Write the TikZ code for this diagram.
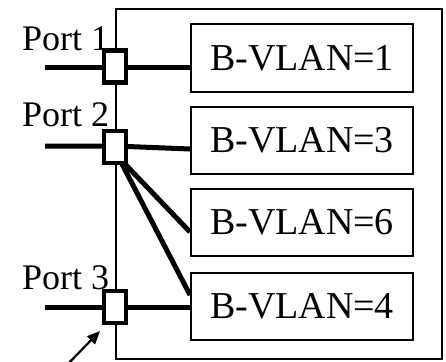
\documentclass[tikz,border=0pt]{standalone}
\usepackage{fontspec}
\setmainfont{Liberation Serif}
\usetikzlibrary{arrows.meta,calc}
\tikzset{
  vbox/.style={draw, line width=2pt, minimum width=222pt, minimum height=67pt, inner sep=0pt, font=\fontsize{38}{38}\selectfont},
  portbox/.style={draw, fill=white, line width=4.8pt, minimum width=22pt, minimum height=32pt, inner sep=0pt},
  portlabel/.style={anchor=base west, inner sep=0pt, font=\fontsize{36}{36}\selectfont},
  link/.style={line width=5pt},
  frame/.style={draw, line width=2pt, minimum width=326pt, minimum height=350pt, inner sep=0pt},
  pointer/.style={line width=2.2pt, -{Triangle[length=13pt,width=11pt]}}
}
\begin{document}
\begin{tikzpicture}[x=1pt,y=-1pt]
\useasboundingbox (0,0) rectangle (446,361);
\node[frame] (outer) at (279,184) {};
\node[vbox] (v1) at (302,58) {B-VLAN=1};
\node[vbox] (v2) at (302,140) {B-VLAN=3};
\node[vbox] (v3) at (302,222.5) {B-VLAN=6};
\node[vbox] (v4) at (302,306.5) {B-VLAN=4};
\node[portlabel] (l1) at (22,51) {Port 1};
\node[portlabel] (l2) at (22,126) {Port 2};
\node[portlabel] (l3) at (22,289) {Port 3};
\coordinate (w1) at (45,67);
\coordinate (w2) at (45,146);
\coordinate (w3) at (45,307);
\coordinate (a0) at (62,370);
\coordinate (a1) at (100,331);
% connectors
\draw[link] (w1) -- (115,67) -- (v1.west |- 0,67);
\draw[link] (w2) -- (115,146) -- ($(v2.west)+(0,9)$);
\draw[link] (124,163) -- ($(v3.west)+(0,9.5)$);
\draw[link] (122,164) -- ($(v4.west)+(0,-11.5)$);
\draw[link] (w3) -- (115,307) -- (v4.west |- 0,307);
% ports
\node[portbox] (p1) at (115,66.5) {};
\node[portbox] (p2) at (115,147) {};
\node[portbox] (p3) at (115,307) {};
\draw[pointer] (a0) -- (a1);
\end{tikzpicture}
\end{document}
